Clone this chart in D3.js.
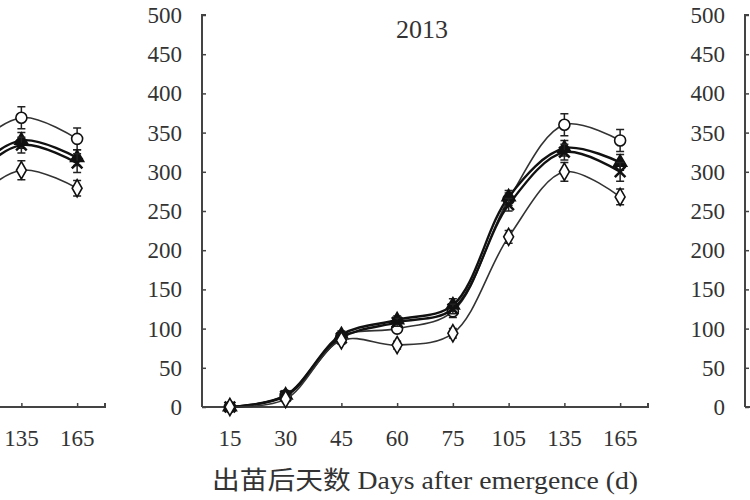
<!DOCTYPE html>
<html>
<head>
<meta charset="utf-8">
<script src="https://cdn.jsdelivr.net/npm/d3@7"></script>
<style>
  body { margin: 0; background: #fff; }
  svg { display: block; }
</style>
</head>
<body>
<svg id="chart"></svg>
<script>
// categorical days after emergence
const days = ["15", "30", "45", "60", "75", "105", "135", "165"];
const yTicks = [0, 50, 100, 150, 200, 250, 300, 350, 400, 450, 500];
const years = ["2012", "2013", "2014"];

// 2012 panel (only the right end shows in the crop)
const y2012s1 = [0, 12, 82, 102, 130, 312, 369, 342];
const y2012s2 = [0, 12, 80, 100, 126, 285, 340, 318];
const y2012s3 = [0, 12, 78, 98, 122, 278, 334, 311];
const y2012s4 = [0, 10, 72, 86, 100, 248, 302, 279];
// 2013 panel
const y2013s1 = [0, 15, 90, 100, 122, 265, 360, 340];
const y2013s2 = [0, 15, 92, 111, 130, 268, 330, 312];
const y2013s3 = [0, 14, 88, 108, 125, 258, 325, 300];
const y2013s4 = [0, 10, 85, 79, 94, 217, 300, 268];
// error bars (same for both years, read roughly)
const errS1 = [3, 4, 5, 5, 8, 8, 14, 14];
const errS2 = [3, 4, 5, 5, 8, 8, 10, 10];
const errS3 = [3, 4, 5, 5, 6, 8, 10, 12];
const errS4 = [3, 3, 5, 5, 6, 8, 12, 10];

const markers = ["circle", "triangle", "cross", "diamond"];

const panelData = {
  "2012": [y2012s1, y2012s2, y2012s3, y2012s4],
  "2013": [y2013s1, y2013s2, y2013s3, y2013s4],
  "2014": [],
};
const errs = [errS1, errS2, errS3, errS4];

const width = 750, height = 500;
const panelStep = 543;
const firstLeft = 202 - panelStep;
const plotW = 446, plotTop = 15, plotBottom = 407;
const serif = "'Liberation Serif', 'Times New Roman', serif";

// the picture is a crop of a wider figure: skip labels lying outside it
const inView = (px) => px > 0 && px < width;

const svg = d3.select("#chart").attr("width", width).attr("height", height);

const y = d3.scaleLinear().domain([0, 500]).range([plotBottom, plotTop]);

const symbolFor = {
  circle: d3.symbol().type(d3.symbolCircle).size(95),
  triangle: d3.symbol().type(d3.symbolTriangle).size(75),
  cross: d3.symbol().type(d3.symbolX).size(75),
  diamond: d3.symbol().type(d3.symbolDiamond).size(85),
};

years.forEach((year, p) => {
  const left = firstLeft + p * panelStep;
  const x = d3.scalePoint().domain(days).range([left, left + plotW]).padding(0.5);
  const g = svg.append("g");

  // y axis with inward ticks
  const yAxis = g.append("g")
    .attr("transform", `translate(${left},0)`)
    .call(d3.axisRight(y).tickValues(yTicks).tickSize(4).tickFormat(""));
  yAxis.select(".domain").attr("stroke", "#444").attr("stroke-width", 2).attr("d", `M4,${plotTop}H0V${plotBottom}`);
  yAxis.selectAll(".tick line").attr("stroke", "#444").attr("stroke-width", 1.5);
  g.selectAll(".ylab").data(inView(left - 40) ? yTicks : []).join("text")
    .attr("class", "ylab")
    .attr("x", left - 20)
    .attr("y", (d) => y(d))
    .attr("dy", "0.35em")
    .attr("text-anchor", "end")
    .attr("font-family", serif)
    .attr("font-size", 23)
    .attr("fill", "#333")
    .text((d) => d);

  // x axis with upward ticks
  const xAxis = g.append("g")
    .attr("transform", `translate(0,${plotBottom})`)
    .call(d3.axisTop(x).tickSize(4).tickFormat(""));
  xAxis.select(".domain").attr("stroke", "#444").attr("stroke-width", 2)
    .attr("d", `M${left},0H${left + plotW}V-4`);
  xAxis.selectAll(".tick line").attr("stroke", "#444").attr("stroke-width", 1.5);
  g.selectAll(".xlab").data(days.filter((d) => inView(x(d) - 18) && inView(x(d) + 18))).join("text")
    .attr("class", "xlab")
    .attr("x", (d) => x(d))
    .attr("y", plotBottom + 39)
    .attr("text-anchor", "middle")
    .attr("font-family", serif)
    .attr("font-size", 23)
    .attr("fill", "#333")
    .text((d) => d);

  if (inView(left + 190) && inView(left + 250)) {
    g.append("text")
      .attr("x", left + 220)
      .attr("y", 38)
      .attr("text-anchor", "middle")
      .attr("font-family", serif)
      .attr("font-size", 26)
      .attr("fill", "#333")
      .text(year);
  }

  const line = d3.line()
    .x((d, i) => x(days[i]))
    .y((d) => y(d))
    .curve(d3.curveCatmullRom.alpha(0.5));

  panelData[year].forEach((vals, s) => {
    g.append("path")
      .datum(vals)
      .attr("fill", "none")
      .attr("stroke", s === 0 || s === 3 ? "#333" : "#111")
      .attr("stroke-width", s === 0 || s === 3 ? 1.6 : 2.4)
      .attr("d", line);

    const pts = vals.map((v, i) => ({ day: days[i], v, e: errs[s][i] }));
    const eb = g.append("g").attr("stroke", "#222").attr("stroke-width", 1.5);
    eb.selectAll(".bar").data(pts).join("path")
      .attr("fill", "none")
      .attr("d", (d) => {
        const cx = x(d.day), y0 = y(d.v - d.e), y1 = y(d.v + d.e);
        return `M${cx},${y0}V${y1}M${cx - 4},${y1}H${cx + 4}M${cx - 4},${y0}H${cx + 4}`;
      });

    const m = markers[s];
    g.selectAll(null).data(pts).join("path")
      .attr("transform", (d) => `translate(${x(d.day)},${y(d.v)})`)
      .attr("d", symbolFor[m])
      .attr("fill", m === "circle" || m === "diamond" ? "#fff" : "#111")
      .attr("stroke", "#111")
      .attr("stroke-width", m === "cross" ? 2.5 : 1.6);
  });
});

svg.append("text")
  .attr("x", 425)
  .attr("y", 489)
  .attr("text-anchor", "middle")
  .attr("font-family", "'Liberation Serif', 'Noto Sans CJK SC', serif")
  .attr("font-size", 25)
  .attr("fill", "#333")
  .attr("textLength", 426)
  .attr("lengthAdjust", "spacingAndGlyphs")
  .text("出苗后天数 Days after emergence (d)");
</script>
</body>
</html>
